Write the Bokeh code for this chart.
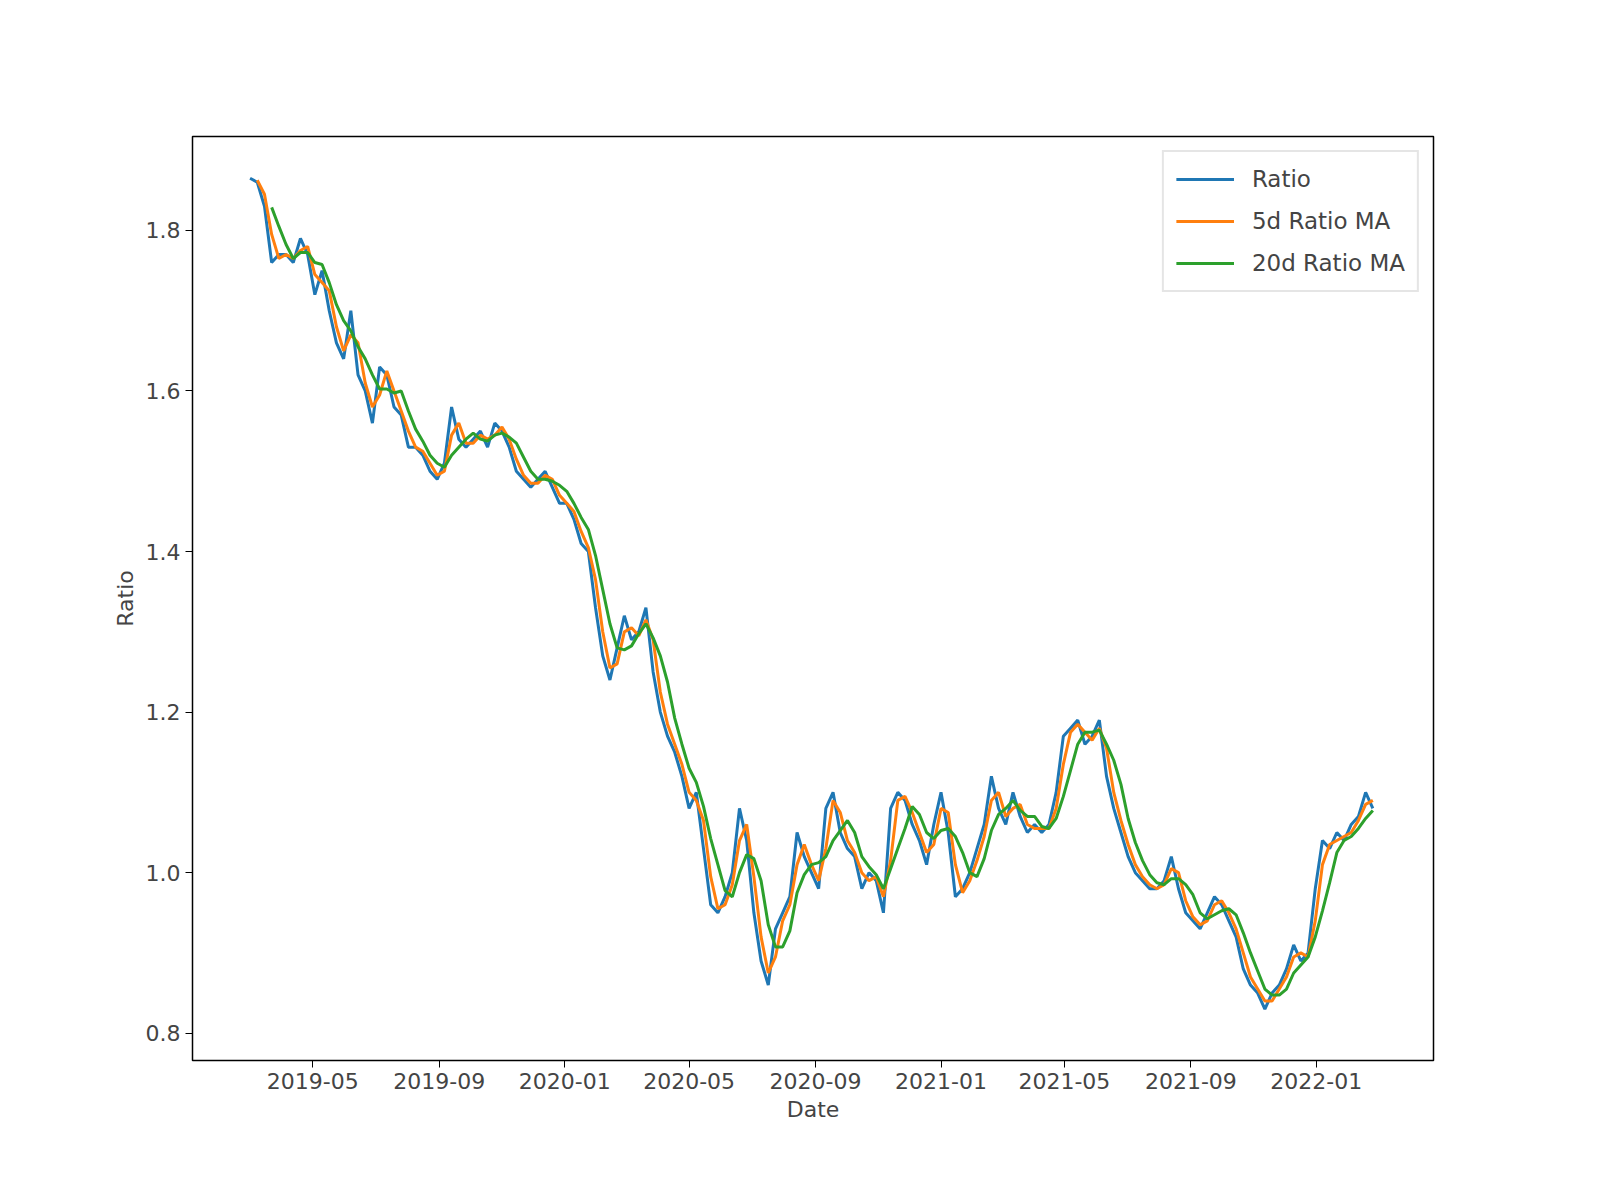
import pandas as pd
from bokeh.plotting import figure
from bokeh.models import (Legend, LegendItem, DatetimeTickFormatter, MonthsTicker,
                          FixedTicker, Range1d, NumeralTickFormatter)
from bokeh.embed import file_html
from bokeh.resources import INLINE

start = "2019-03-01"
ratio = [
    1.865, 1.86, 1.83, 1.76, 1.77,
    1.77, 1.76, 1.79, 1.77,
    1.72, 1.75, 1.70, 1.66, 1.64,
    1.70, 1.62, 1.60, 1.56,
    1.63, 1.62, 1.58, 1.57,
    1.53, 1.53, 1.52, 1.50, 1.49,
    1.51, 1.58, 1.54, 1.53,
    1.54, 1.55, 1.53, 1.56,
    1.55, 1.53, 1.50, 1.49, 1.48,
    1.49, 1.50, 1.48, 1.46,
    1.46, 1.44, 1.41, 1.40, 1.33,
    1.27, 1.24, 1.28, 1.32,
    1.29, 1.30, 1.33, 1.25,
    1.20, 1.17, 1.15, 1.12,
    1.08, 1.10, 1.03, 0.96, 0.95,
    0.97, 1.00, 1.08, 1.04,
    0.95, 0.89, 0.86, 0.93, 0.95,
    0.97, 1.05, 1.02, 1.00,
    0.98, 1.08, 1.10, 1.05,
    1.03, 1.02, 0.98, 1.00, 0.99,
    0.95, 1.08, 1.10, 1.09,
    1.06, 1.04, 1.01, 1.06,
    1.10, 1.05, 0.97, 0.98, 1.00,
    1.03, 1.06, 1.12, 1.08,
    1.06, 1.10, 1.07, 1.05,
    1.06, 1.05, 1.06, 1.10, 1.17,
    1.18, 1.19, 1.16, 1.17,
    1.19, 1.12, 1.08, 1.05,
    1.02, 1.00, 0.99, 0.98, 0.98,
    0.99, 1.02, 0.98, 0.95,
    0.94, 0.93, 0.95, 0.97,
    0.96, 0.94, 0.92, 0.88, 0.86,
    0.85, 0.83, 0.85, 0.86,
    0.88, 0.91, 0.89, 0.90, 0.98,
    1.04, 1.03, 1.05, 1.04,
    1.06, 1.07, 1.10, 1.08,
]
dates = pd.date_range(start, periods=len(ratio), freq="7D")
s = pd.Series(ratio, index=dates)
ma5 = s.rolling(2).mean()
ma20 = s.rolling(4).mean()

p = figure(width=1584, height=1184, output_backend="svg", toolbar_location=None,
           x_axis_type="datetime", min_border_left=192, min_border_right=151,
           min_border_top=136, min_border_bottom=124)
p.x_range = Range1d(pd.Timestamp("2019-01-04"), pd.Timestamp("2022-04-25"))
p.y_range = Range1d(0.766, 1.917)

r1 = p.line(dates, ratio, line_color="#1f77b4", line_width=3)
r2 = p.line(dates, ma5.values, line_color="#ff7f0e", line_width=3)
r3 = p.line(dates, ma20.values, line_color="#2ca02c", line_width=3)

p.xgrid.visible = False
p.ygrid.visible = False
p.outline_line_color = "black"
p.outline_line_width = 1.5
p.xaxis.ticker = MonthsTicker(months=[0, 4, 8])
p.xaxis.formatter = DatetimeTickFormatter(months="%Y-%m", days="%Y-%m")
p.yaxis.ticker = FixedTicker(ticks=[0.8, 1.0, 1.2, 1.4, 1.6, 1.8])
p.yaxis.formatter = NumeralTickFormatter(format="0.0")
p.xaxis.axis_label = "Date"
p.yaxis.axis_label = "Ratio"
for ax in (p.xaxis, p.yaxis):
    ax.axis_line_color = None
    ax.major_tick_in = 0
    ax.major_tick_out = 7
    ax.minor_tick_line_color = None
    ax.major_label_text_font = "DejaVu Sans"
    ax.major_label_text_font_size = "22px"
    ax.axis_label_text_font = "DejaVu Sans"
    ax.axis_label_text_font_size = "22px"
    ax.axis_label_text_font_style = "normal"
p.yaxis.major_label_orientation = "horizontal"

legend = Legend(items=[LegendItem(label="Ratio", renderers=[r1]),
                       LegendItem(label="5d Ratio MA", renderers=[r2]),
                       LegendItem(label="20d Ratio MA", renderers=[r3])],
                location="top_right", label_text_font="DejaVu Sans",
                label_text_font_size="23px", border_line_color="#cccccc",
                border_line_width=2, glyph_width=58, label_height=30,
                spacing=12, margin=14, padding=12, label_standoff=18)
p.add_layout(legend)

open("out.html", "w").write(file_html(p, INLINE))
